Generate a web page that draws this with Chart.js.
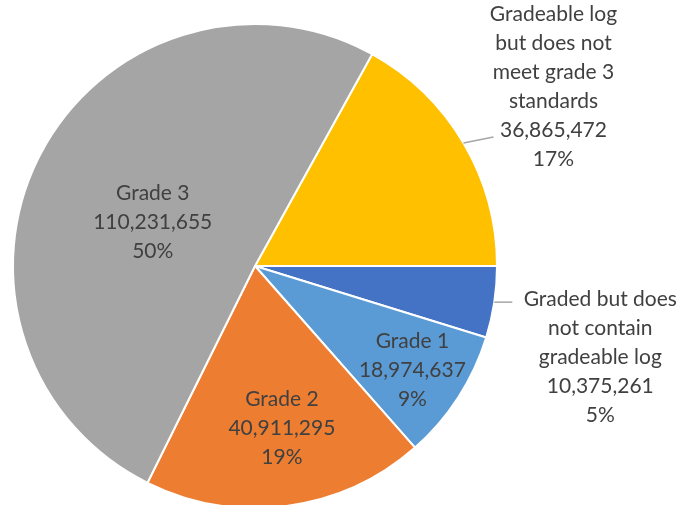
<!DOCTYPE html>
<html lang="en">
<head>
<meta charset="UTF-8">
<title>Log Grading</title>
<script src="https://cdn.jsdelivr.net/npm/chart.js"></script>
<style>
    html, body { margin: 0; padding: 0; background: #fff; overflow: hidden; }
    #wrap { width: 685px; height: 505px; position: relative; }
</style>
</head>
<body>
<div id="wrap"><canvas id="pieChart"></canvas></div>
<script>
    // data
    const categories = [
        'Gradeable log but does not meet grade 3 standards',
        'Graded but does not contain gradeable log',
        'Grade 1', 'Grade 2', 'Grade 3'
    ];
    const labelLines = [
        ['Gradeable log', 'but does not', 'meet grade 3', 'standards'],
        ['Graded but does', 'not contain', 'gradeable log'],
        ['Grade 1'], ['Grade 2'], ['Grade 3']
    ];
    const logCounts = [36865472, 10375261, 18974637, 40911295, 110231655];
    const percentLabels = ['17%', '5%', '9%', '19%', '50%'];
    const sliceColors = ['#FFC000', '#4472C4', '#5B9BD5', '#ED7D31', '#A5A5A5'];

    const FONT = '21px Lato';
    const LINE_H = 29;

    // where each label sits: inside (fraction of radius + angle tweak) or outside with a leader line
    const labelPlace = [
        { inside: false, dx: 90, dy: -56, lx: 30, ly: -6 },
        { inside: false, dx: 106, dy: 55, lx: 18, ly: 0 },
        { inside: true, r: 0.78, da: 0.6 },
        { inside: true, r: 0.68, da: -1.9 },
        { inside: true, r: 0.46, da: -4.4 }
    ];

    const sliceLabels = {
        id: 'sliceLabels',
        afterDatasetsDraw(chart) {
            const ctx = chart.ctx;
            const arcs = chart.getDatasetMeta(0).data;
            ctx.save();
            ctx.font = FONT;
            ctx.fillStyle = '#404040';
            ctx.textAlign = 'center';
            ctx.textBaseline = 'middle';
            arcs.forEach((arc, i) => {
                const p = arc.getProps(['x', 'y', 'startAngle', 'endAngle', 'outerRadius'], true);
                const mid = (p.startAngle + p.endAngle) / 2;
                const place = labelPlace[i];
                const lines = labelLines[i].concat([logCounts[i].toLocaleString('en-US'), percentLabels[i]]);
                let cx, cy;
                if (place.inside) {
                    const a = mid + place.da * Math.PI / 180;
                    cx = p.x + Math.cos(a) * p.outerRadius * place.r;
                    cy = p.y + Math.sin(a) * p.outerRadius * place.r;
                } else {
                    const ex = p.x + Math.cos(mid) * p.outerRadius;
                    const ey = p.y + Math.sin(mid) * p.outerRadius;
                    ctx.strokeStyle = '#A6A6A6';
                    ctx.lineWidth = 1.5;
                    ctx.beginPath();
                    ctx.moveTo(ex, ey);
                    ctx.lineTo(ex + place.lx, ey + place.ly);
                    ctx.stroke();
                    cx = ex + place.dx;
                    cy = ey + place.dy;
                }
                const top = cy - (lines.length - 1) * LINE_H / 2;
                lines.forEach((t, k) => ctx.fillText(t, cx, top + k * LINE_H));
            });
            ctx.restore();
        }
    };

    const total = logCounts.reduce((a, b) => a + b, 0);
    // first slice's share sets where the pie starts (its end sits at 3 o'clock)
    const startRotation = 90 - logCounts[0] / total * 360;

    new Chart(document.getElementById('pieChart'), {
        type: 'pie',
        data: {
            labels: categories,
            datasets: [{
                data: logCounts,
                backgroundColor: sliceColors,
                borderColor: '#FFFFFF',
                borderWidth: 2,
                radius: 242,
                clip: false
            }]
        },
        options: {
            responsive: true,
            maintainAspectRatio: false,
            animation: false,
            rotation: startRotation,
            layout: { padding: { left: 0, right: 175, top: 27, bottom: 0 } },
            plugins: {
                legend: { display: false },
                tooltip: { enabled: false }
            }
        },
        plugins: [sliceLabels]
    });
</script>
</body>
</html>
